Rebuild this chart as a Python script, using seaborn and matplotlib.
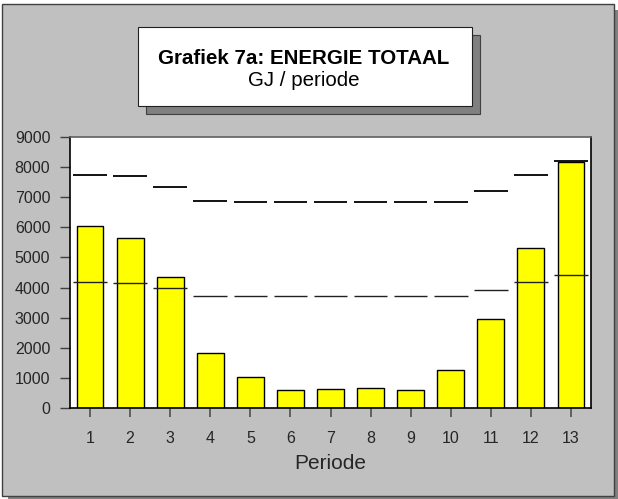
import matplotlib
matplotlib.use("Agg")
import matplotlib.pyplot as plt
from matplotlib.patches import Rectangle
import seaborn as sns
import pandas as pd

# ---- data ----
periods = [1, 2, 3, 4, 5, 6, 7, 8, 9, 10, 11, 12, 13]
energy = [6050, 5640, 4350, 1830, 1020, 600, 620, 650, 610, 1250, 2960, 5330, 8170]
upper = [7750, 7720, 7350, 6890, 6855, 6845, 6830, 6830, 6830, 6830, 7220, 7750, 8200]
lower = [4200, 4165, 3980, 3730, 3710, 3710, 3710, 3710, 3710, 3710, 3910, 4185, 4430]
yticks = [0, 1000, 2000, 3000, 4000, 5000, 6000, 7000, 8000, 9000]
title_main = "Grafiek 7a: ENERGIE TOTAAL"
title_sub = "GJ / periode"
xlabel = "Periode"

sns.set_style("white")
plt.rcParams["font.family"] = ["Liberation Sans", "DejaVu Sans"]

W, H = 618, 499
fig = plt.figure(figsize=(W / 100, H / 100), dpi=100)
fig.patch.set_facecolor("white")

def px_rect(x0, y0, x1, y1, **kw):
    return Rectangle((x0 / W, 1 - y1 / H), (x1 - x0) / W, (y1 - y0) / H,
                     transform=fig.transFigure, **kw)

# outer panel with shadow
fig.patches.append(px_rect(8, 10, 618, 499, facecolor="#808080", edgecolor="none", zorder=0))
fig.patches.append(px_rect(2, 4, 614, 496, facecolor="#C0C0C0", edgecolor="#404040", linewidth=1.0, zorder=1))
# title box with shadow
fig.patches.append(px_rect(146, 35, 480, 114, facecolor="#808080", edgecolor="#404040", linewidth=0.8, zorder=2))
fig.patches.append(px_rect(138, 27, 472, 106, facecolor="white", edgecolor="#202020", linewidth=0.8, zorder=3))

fig.text(304 / W, 1 - 64 / H, title_main, ha="center", va="baseline",
         fontsize=14.8, fontweight="bold", color="black", zorder=4)
fig.text(304 / W, 1 - 86 / H, title_sub, ha="center", va="baseline",
         fontsize=14.8, color="black", zorder=4)

ax = fig.add_axes([70 / W, 1 - 408 / H, (591 - 70) / W, (408 - 137) / H])
ax.set_zorder(5)
ax.set_facecolor("white")

df = pd.DataFrame({"Periode": periods, "Energie": energy})
sns.barplot(data=df, x="Periode", y="Energie", color="#FFFF00", saturation=1,
            edgecolor="black", linewidth=1.0, width=0.67, ax=ax, zorder=2)

xpos = list(range(len(periods)))
ax.hlines(upper, [p - 0.42 for p in xpos], [p + 0.42 for p in xpos],
          colors="black", linewidth=1.3, zorder=3)
ax.hlines(lower, [p - 0.42 for p in xpos], [p + 0.42 for p in xpos],
          colors="#202020", linewidth=1.0, zorder=3)

ax.set_xlim(-0.5, len(periods) - 0.5)
ax.set_ylim(0, 9000)
ax.set_yticks(yticks)
ax.set_yticklabels([str(v) for v in yticks])
ax.set_xticks(xpos)
ax.set_xticklabels([str(p) for p in periods])

ax.tick_params(axis="y", direction="out", length=7.2, width=1.0, color="#404040",
               pad=7, labelsize=11.5, left=True)
ax.tick_params(axis="x", direction="out", length=6.2, width=1.4, color="#606060",
               pad=10.5, labelsize=11.5, bottom=True)

for s in ["left", "bottom", "right"]:
    ax.spines[s].set_color("black")
    ax.spines[s].set_linewidth(1.2)
ax.spines["top"].set_color("#606060")
ax.spines["top"].set_linewidth(1.2)

ax.set_xlabel(xlabel, fontsize=15, labelpad=5.5)
ax.set_ylabel("")

fig.savefig("out.png", dpi=100)
